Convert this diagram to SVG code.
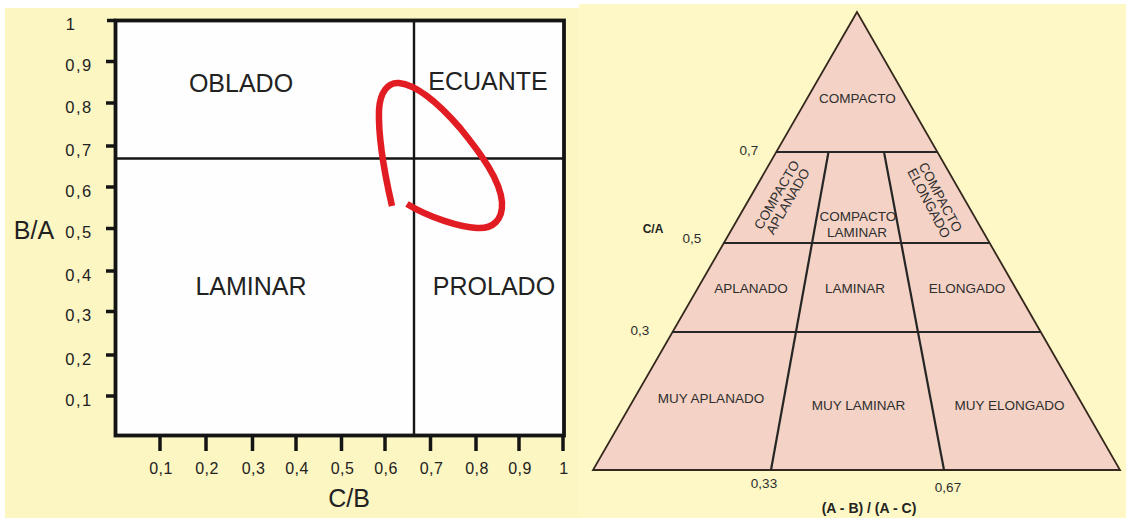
<svg xmlns="http://www.w3.org/2000/svg" width="1126" height="518" viewBox="0 0 1126 518">
<style>
.bg1{fill:#fcf6c2}
.bg2{fill:#fdf8c5}
.ax{stroke:#141414;fill:none;stroke-linecap:butt}
.tk{stroke:#141414;stroke-width:3.5}
.lt{font-family:"Liberation Sans",Arial,sans-serif;fill:#222}
.tl{font-size:16.5px;letter-spacing:1.5px;text-anchor:middle}
.xl{font-size:16px;letter-spacing:0.5px;text-anchor:middle}
.big{font-size:25px;text-anchor:middle}
.rt{font-family:"Liberation Sans",Arial,sans-serif;fill:#2e2e2e;font-size:13.5px;text-anchor:middle}
.rb{font-family:"Liberation Sans",Arial,sans-serif;fill:#222;font-weight:bold;text-anchor:middle}
.dv{stroke:#262626;stroke-width:2.2;fill:none}
</style>
<rect x="0" y="0" width="1126" height="518" fill="#ffffff"/>
<rect class="bg1" x="5" y="8" width="574" height="510"/>
<rect class="bg2" x="579" y="4" width="547" height="514"/>

<g id="left-chart">
  <g id="plot-box">
    <rect x="115.5" y="20.5" width="448.5" height="415" fill="#fefefe" stroke="#141414" stroke-width="3.8"/>
  </g>
  <g id="connectors">
    <line class="ax" x1="414" y1="21" x2="414" y2="435" stroke-width="2.4"/>
    <line class="ax" x1="116" y1="158.5" x2="564" y2="158.5" stroke-width="2.6"/>
    <line class="tk" x1="107" y1="20.5" x2="116" y2="20.5"/>
    <line class="tk" x1="106" y1="61.5" x2="116" y2="61.5"/>
    <line class="tk" x1="106" y1="103" x2="116" y2="103"/>
    <line class="tk" x1="106" y1="146" x2="116" y2="146"/>
    <line class="tk" x1="106" y1="187" x2="116" y2="187"/>
    <line class="tk" x1="106" y1="228.5" x2="116" y2="228.5"/>
    <line class="tk" x1="106" y1="271" x2="116" y2="271"/>
    <line class="tk" x1="106" y1="311.5" x2="116" y2="311.5"/>
    <line class="tk" x1="106" y1="355" x2="116" y2="355"/>
    <line class="tk" x1="106" y1="396" x2="116" y2="396"/>
    <line class="tk" x1="160" y1="436" x2="160" y2="451"/>
    <line class="tk" x1="206" y1="436" x2="206" y2="451"/>
    <line class="tk" x1="252.5" y1="436" x2="252.5" y2="451"/>
    <line class="tk" x1="296" y1="436" x2="296" y2="451"/>
    <line class="tk" x1="341.5" y1="436" x2="341.5" y2="451"/>
    <line class="tk" x1="385" y1="436" x2="385" y2="451"/>
    <line class="tk" x1="430.5" y1="436" x2="430.5" y2="451"/>
    <line class="tk" x1="476" y1="436" x2="476" y2="451"/>
    <line class="tk" x1="519" y1="436" x2="519" y2="451"/>
    <line class="tk" x1="563" y1="436" x2="563" y2="451"/>
  </g>
  <g id="y-labels" class="lt tl">
    <text x="71" y="30">1</text>
    <text x="79" y="71">0,9</text>
    <text x="79" y="112.5">0,8</text>
    <text x="79" y="155.5">0,7</text>
    <text x="79" y="196.5">0,6</text>
    <text x="79" y="238">0,5</text>
    <text x="79" y="280.5">0,4</text>
    <text x="79" y="321">0,3</text>
    <text x="79" y="364.5">0,2</text>
    <text x="79" y="405.5">0,1</text>
  </g>
  <g id="x-labels" class="lt xl">
    <text x="161" y="474">0,1</text>
    <text x="207" y="474">0,2</text>
    <text x="253.5" y="474">0,3</text>
    <text x="297" y="474">0,4</text>
    <text x="342.5" y="474">0,5</text>
    <text x="386" y="474">0,6</text>
    <text x="431.5" y="474">0,7</text>
    <text x="477" y="474">0,8</text>
    <text x="520" y="474">0,9</text>
    <text x="564" y="474">1</text>
  </g>
  <g id="axis-titles" class="lt big">
    <text x="34" y="239">B/A</text>
    <text x="349" y="507">C/B</text>
  </g>
  <g id="region-oblado" class="lt big"><text x="241" y="92">OBLADO</text></g>
  <g id="region-ecuante" class="lt big"><text x="488" y="90">ECUANTE</text></g>
  <g id="region-laminar" class="lt big"><text x="251" y="295">LAMINAR</text></g>
  <g id="region-prolado" class="lt big"><text x="494" y="295">PROLADO</text></g>
  <g id="red-loop">
    <path d="M392,206 C386,180 378,140 379,110 C380,92 388,82 399,83 C418,85 440,105 460,128 C482,155 500,180 502,202 C503,220 493,229 477,228 C460,227 430,218 407,204" fill="none" stroke="#e11d23" stroke-width="6.5" stroke-linecap="butt"/>
  </g>
</g>

<g id="right-chart">
  <g id="triangle">
    <polygon points="857,12 593,470 1120,470" fill="#f4d3c6" stroke="#35281e" stroke-width="1.8" stroke-linejoin="miter"/>
  </g>
  <g id="triangle-dividers">
    <line class="dv" x1="776" y1="152" x2="937" y2="152"/>
    <line class="dv" x1="723.5" y1="243" x2="989.5" y2="243"/>
    <line class="dv" x1="672" y1="332" x2="1040.5" y2="332"/>
    <line class="dv" x1="828.5" y1="152" x2="771" y2="470"/>
    <line class="dv" x1="884" y1="152" x2="944" y2="470"/>
  </g>
  <g id="cell-compacto" class="rt"><text x="857.5" y="103">COMPACTO</text></g>
  <g id="cell-compacto-aplanado" class="rt" transform="translate(782,198) rotate(-60)">
    <text x="0" y="-1.5">COMPACTO</text>
    <text x="0" y="11.5">APLANADO</text>
  </g>
  <g id="cell-compacto-laminar" class="rt">
    <text x="858" y="221">COMPACTO</text>
    <text x="857" y="237">LAMINAR</text>
  </g>
  <g id="cell-compacto-elongado" class="rt" transform="translate(935,200) rotate(62)">
    <text x="0" y="-1.5">COMPACTO</text>
    <text x="0" y="11.5">ELONGADO</text>
  </g>
  <g id="cell-aplanado" class="rt"><text x="751" y="293">APLANADO</text></g>
  <g id="cell-laminar" class="rt"><text x="855" y="293">LAMINAR</text></g>
  <g id="cell-elongado" class="rt"><text x="967" y="293">ELONGADO</text></g>
  <g id="cell-muy-aplanado" class="rt"><text x="711" y="403">MUY APLANADO</text></g>
  <g id="cell-muy-laminar" class="rt"><text x="858.5" y="410">MUY LAMINAR</text></g>
  <g id="cell-muy-elongado" class="rt"><text x="1009.5" y="410">MUY ELONGADO</text></g>
  <g id="right-axis-labels">
    <text class="rt" x="749" y="155">0,7</text>
    <text class="rt" x="692" y="243">0,5</text>
    <text class="rt" x="640" y="335">0,3</text>
    <text class="rt" x="764" y="488">0,33</text>
    <text class="rt" x="948" y="492">0,67</text>
    <text class="rb" x="653" y="233" font-size="12">C/A</text>
    <text class="rb" x="869" y="513" font-size="14">(A - B) / (A - C)</text>
  </g>
</g>
</svg>
